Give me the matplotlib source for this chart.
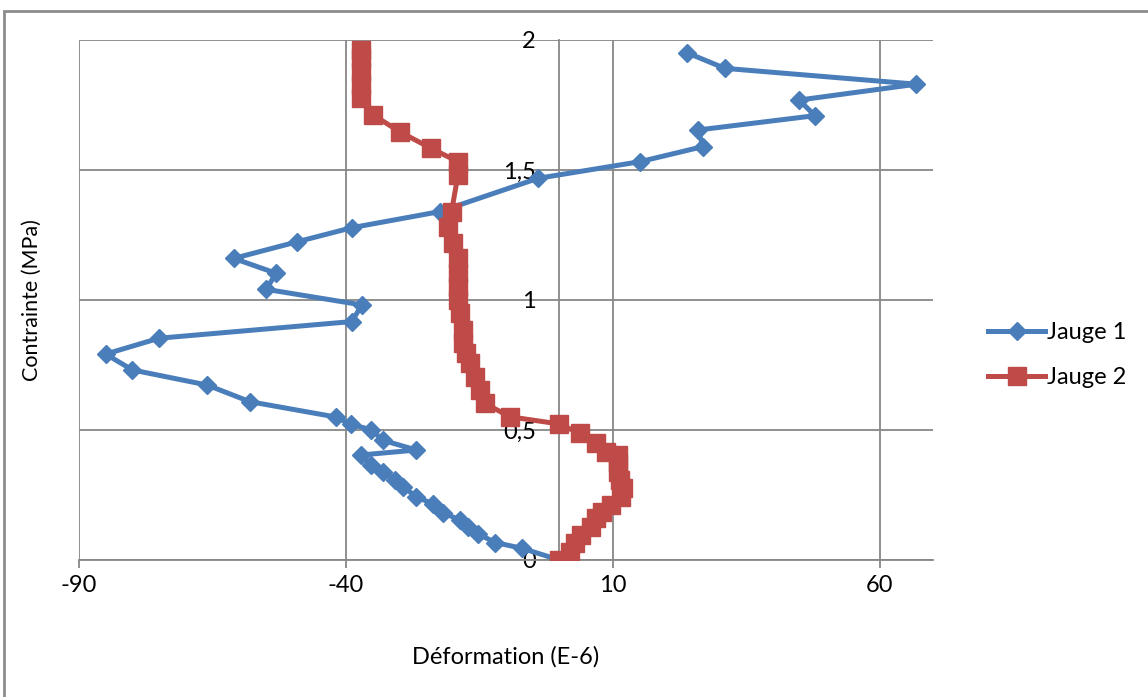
import matplotlib
matplotlib.use("Agg")
from matplotlib import pyplot as plt
from matplotlib.patches import Rectangle

plt.rcParams['font.family'] = ['Lato', 'DejaVu Sans']
plt.rcParams['axes.unicode_minus'] = False

# Jauge 1
def1 = [0, -7.0, -12.0, -15.2, -17.1, -18.7, -21.8, -23.6, -26.8, -29.3, -30.8, -33.0, -35.3, -37.1,
        -26.8, -33.0, -35.2, -39.1, -41.9, -58.0, -66.0, -80.0, -85.0, -75.0, -38.9, -37.0, -54.9,
        -53.1, -61.0, -49.1, -38.9, -22.4, -4.0, 15.1, 26.9, 26.0, 47.9, 44.9, 66.9, 31.0, 23.9]
con1 = [0, 0.045, 0.067, 0.100, 0.128, 0.154, 0.182, 0.215, 0.243, 0.282, 0.308, 0.340, 0.367, 0.404,
        0.423, 0.460, 0.500, 0.523, 0.550, 0.609, 0.673, 0.731, 0.792, 0.853, 0.917, 0.981, 1.041,
        1.103, 1.160, 1.224, 1.278, 1.340, 1.468, 1.532, 1.590, 1.654, 1.709, 1.769, 1.830, 1.891, 1.951]

# Jauge 2
def2 = [0, 1.9, 2.9, 4.1, 6.0, 6.9, 7.9, 9.7, 11.6, 11.9, 11.3, 11.0, 11.0, 11.0, 8.8, 6.9, 3.8, 0.0,
        -9.3, -14.0, -14.9, -15.8, -16.8, -17.5, -18.0, -18.0, -18.6, -19.0, -19.0, -19.0, -19.0,
        -19.9, -20.8, -20.2, -19.0, -19.0, -24.0, -29.9, -34.9, -37.1, -37.1, -37.1, -37.1, -37.1]
con2 = [0, 0.032, 0.064, 0.096, 0.128, 0.160, 0.186, 0.212, 0.243, 0.276, 0.308, 0.340, 0.372, 0.404,
        0.417, 0.449, 0.487, 0.523, 0.551, 0.603, 0.654, 0.705, 0.757, 0.795, 0.833, 0.885, 0.949,
        1.000, 1.051, 1.103, 1.160, 1.218, 1.282, 1.340, 1.481, 1.532, 1.583, 1.647, 1.712, 1.776,
        1.827, 1.878, 1.929, 1.960]

xticks = [-90, -40, 10, 60]
yticks = [0, 0.5, 1, 1.5, 2]
ylabels = ["0", "0,5", "1", "1,5", "2"]

fig = plt.figure(figsize=(11.48, 6.97), dpi=100)
ax = fig.add_axes([79 / 1148, 137 / 697, 854 / 1148, 520 / 697])

grey = '#878787'
ax.plot(def1, con1, color='#4A7EBB', lw=3.6, marker='D', ms=9.5, label="Jauge 1", zorder=3)
ax.plot(def2, con2, color='#BE4B48', lw=3.6, marker='s', ms=13, label="Jauge 2", zorder=4)

ax.set_xlim(-90, 70)
ax.set_ylim(0, 2)
ax.set_xticks(xticks)
ax.set_yticks(yticks)
ax.set_yticklabels(ylabels)
ax.grid(True, color=grey, lw=1.3)
ax.set_axisbelow(True)

ax.spines['top'].set_visible(False)
ax.spines['right'].set_visible(False)
ax.spines['left'].set_position(('data', 0))
for s in ['left', 'bottom']:
    ax.spines[s].set_color(grey)
    ax.spines[s].set_linewidth(1.3)
ax.tick_params(axis='x', length=6, color=grey, width=1.3, labelsize=17, pad=5)
ax.tick_params(axis='y', length=0, labelsize=17, pad=17)

ax.set_xlabel("Déformation (E-6)", fontsize=17, labelpad=36)
fig.text(32 / 1148, 1 - 300 / 697, "Contrainte (MPa)", rotation=90, fontsize=15.5,
         ha='center', va='center')

ax.legend(loc='center left', bbox_to_anchor=(1.04, 0.394), frameon=False, fontsize=17,
          handlelength=2.4, labelspacing=1.0, handletextpad=0.1)

# cadre du graphique
fig.patches.append(Rectangle((4 / 1148, -0.1), 1.2, 1 - 11 / 697 + 0.1, transform=fig.transFigure,
                             fill=False, edgecolor='#8c8c8c', lw=2))

plt.savefig("out.png", dpi=100)
